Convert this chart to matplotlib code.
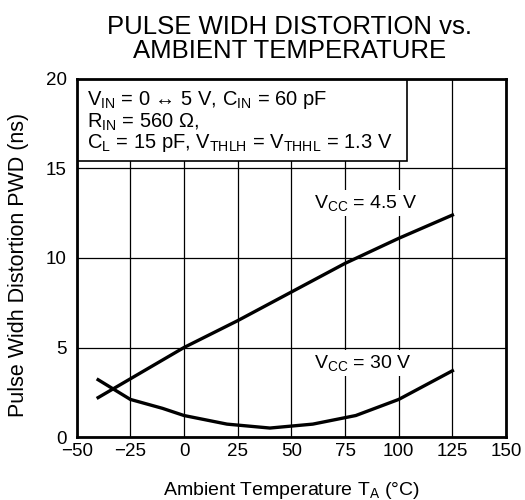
import matplotlib.pyplot as plt
from matplotlib.patches import Rectangle

plt.rcParams['font.family'] = ['Liberation Sans', 'DejaVu Sans']
plt.rcParams['mathtext.fontset'] = 'custom'
plt.rcParams['mathtext.rm'] = 'Liberation Sans'
plt.rcParams['mathtext.it'] = 'Liberation Sans'

# curve readings (temperature in degC, PWD in ns)
temp_45 = [-40, -25, 0, 25, 50, 75, 100, 125]
pwd_45 = [2.2, 3.25, 5.0, 6.5, 8.1, 9.7, 11.1, 12.4]

temp_30 = [-40, -25, -10, 0, 20, 40, 60, 80, 100, 125]
pwd_30 = [3.2, 2.1, 1.6, 1.2, 0.72, 0.5, 0.72, 1.2, 2.1, 3.7]

x_ticks = [-50, -25, 0, 25, 50, 75, 100, 125, 150]
x_labels = ['\u221250', '\u221225', '0', '25', '50', '75', '100', '125', '150']
y_ticks = [0, 5, 10, 15, 20]

fig = plt.figure(figsize=(5.25, 5.0), dpi=100)
ax = fig.add_axes([0.146, 0.126, 0.818, 0.716])

ax.plot(temp_45, pwd_45, color='black', lw=2.4, zorder=3)
ax.plot(temp_30, pwd_30, color='black', lw=2.4, zorder=3)

ax.set_xlim(-50, 150)
ax.set_ylim(0, 20)
ax.set_xticks(x_ticks)
ax.set_xticklabels(x_labels)
ax.set_yticks(y_ticks)
ax.tick_params(length=0, labelsize=13.5, colors='black')
ax.tick_params(axis='x', pad=4)
ax.tick_params(axis='y', pad=7)
ax.grid(True, color='black', lw=0.9)
ax.set_axisbelow(True)
for s in ax.spines.values():
    s.set_linewidth(2)
    s.set_zorder(5)

ax.set_xlabel(r'Ambient Temperature T$_\mathrm{A}$ (°C)', fontsize=14)
ax.xaxis.set_label_coords(0.5, -0.12)
ax.set_ylabel('Pulse Widh Distortion PWD (ns)', fontsize=15.5)
ax.yaxis.set_label_coords(-0.11, 0.48)

fig.text(0.552, 0.922, 'PULSE WIDH DISTORTION vs.\nAMBIENT TEMPERATURE',
         ha='center', va='center', fontsize=18.5, linespacing=0.95)

# condition box in the top left corner
ax.add_patch(Rectangle((-50, 15.4), 154, 4.6, fc='white', ec='black', lw=1.2, zorder=4))
box_lines = [r'$\mathrm{V_{IN}}$ = 0 ↔ 5 V, $\mathrm{C_{IN}}$ = 60 pF',
             r'$\mathrm{R_{IN}}$ = 560 Ω,',
             r'$\mathrm{C_{L}}$ = 15 pF, $\mathrm{V_{THLH}}$ = $\mathrm{V_{THHL}}$ = 1.3 V']
box_y = [18.8, 17.6, 16.4]
for line, yy in zip(box_lines, box_y):
    ax.text(-45.2, yy, line, fontsize=14.5, ha='left', va='center', zorder=6)

ax.text(84.4, 13.05, r'$\mathrm{V_{CC}}$ = 4.5 V', fontsize=14, ha='center', va='center',
        zorder=4, bbox=dict(boxstyle='square,pad=0.15', fc='white', ec='none'))
ax.text(83.5, 4.13, r'$\mathrm{V_{CC}}$ = 30 V', fontsize=14, ha='center', va='center',
        zorder=4, bbox=dict(boxstyle='square,pad=0.15', fc='white', ec='none'))

fig.savefig('out.png', dpi=100)
